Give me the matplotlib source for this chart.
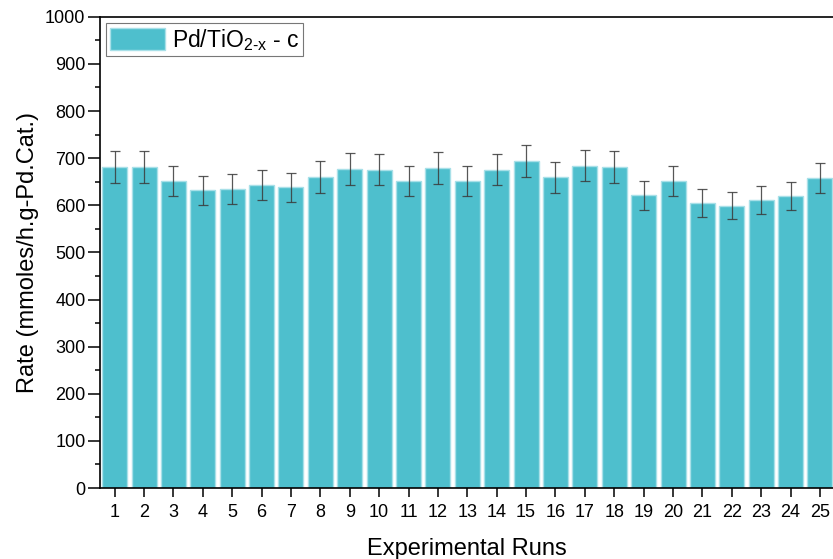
import numpy as np
import matplotlib
matplotlib.use('Agg')
import matplotlib.pyplot as plt
from matplotlib.ticker import MultipleLocator

plt.rcParams['font.family'] = ['Liberation Sans', 'DejaVu Sans']
plt.rcParams['mathtext.fontset'] = 'custom'
plt.rcParams['mathtext.rm'] = 'Liberation Sans'
plt.rcParams['mathtext.it'] = 'Liberation Sans:italic'

# valeurs
runs = list(range(1, 26))
rate = [681, 681, 652, 632, 634, 643, 638, 660, 677, 675, 652, 679, 652,
        675, 694, 659, 684, 681, 621, 652, 605, 599, 611, 619, 657]
err = [34, 34, 32, 31, 32, 32, 31, 33, 33, 33, 32, 34, 32,
       33, 33, 32, 33, 34, 30, 32, 30, 29, 30, 30, 32]
label = r'Pd/TiO$_{\text{2-x}}$ - c'

fig = plt.figure(figsize=(8.33, 5.59), dpi=100)
ax = fig.add_axes([0.12, 0.127, 0.882, 0.843])

ax.bar(runs, rate, width=0.85, color='#4ebfcd', edgecolor='#a8e0e8',
       linewidth=1, label=label, zorder=2)
ax.errorbar(runs, rate, yerr=err, fmt='none', ecolor='#3a3a3a', elinewidth=0.9,
            capsize=3.4, capthick=0.9, alpha=0.85, zorder=3)

ax.set_xlim(0.5, 25.5)
ax.set_ylim(0, 1000)
ax.set_xticks(runs)
ax.yaxis.set_major_locator(MultipleLocator(100))
ax.yaxis.set_minor_locator(MultipleLocator(50))
ax.tick_params(axis='both', which='major', direction='out', width=1.1,
               labelsize=13, color='black')
ax.tick_params(axis='x', which='major', length=6.5, pad=5)
ax.tick_params(axis='y', which='major', length=9, pad=1.5)
ax.tick_params(axis='y', which='minor', direction='out', length=3.5, width=1.1)
for s in ax.spines.values():
    s.set_linewidth(1.2)

ax.set_xlabel('Experimental Runs', fontsize=17, labelpad=12)
ax.set_ylabel('Rate (mmoles/h.g-Pd.Cat.)', fontsize=17, labelpad=4)

leg = ax.legend(loc='upper left', fontsize=16.5, fancybox=False, framealpha=1,
                edgecolor='#777777', handlelength=2.4, handleheight=1.13,
                borderaxespad=0.28, borderpad=0.15, handletextpad=0.3)
leg.get_frame().set_linewidth(0.8)

fig.savefig('out.png', dpi=100)
